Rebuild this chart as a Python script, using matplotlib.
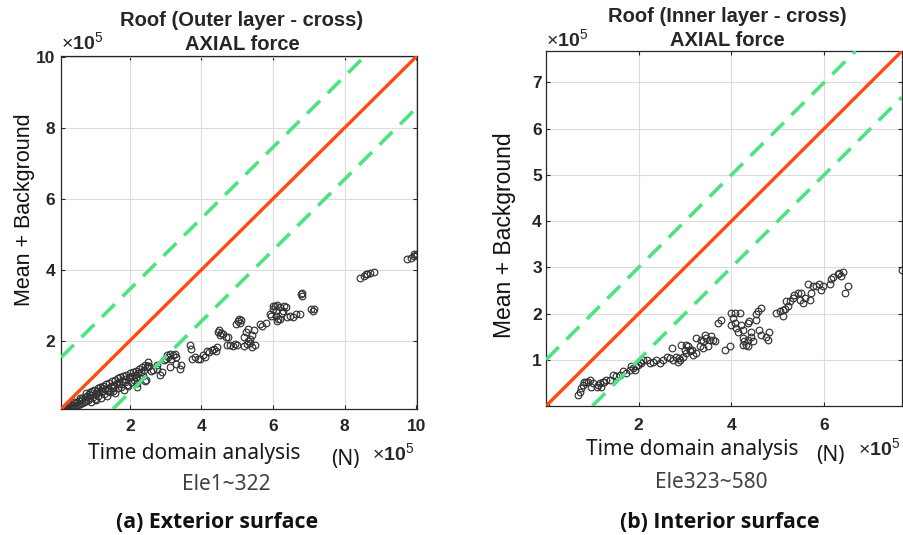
import numpy as np
import matplotlib.pyplot as plt

plt.rcParams['mathtext.fontset'] = 'custom'
plt.rcParams['mathtext.rm'] = 'Liberation Sans'
plt.rcParams['mathtext.bf'] = 'Liberation Sans:bold'

# axial force, units of 1e5 N: (time domain, mean + background)
outer_pts = [
    (0.08, 0.05), (0.12, 0.04), (0.15, 0.08), (0.18, 0.06), (0.20, 0.10), (0.23, 0.07),
    (0.26, 0.12), (0.28, 0.09), (0.31, 0.15), (0.34, 0.10), (0.36, 0.18), (0.39, 0.13),
    (0.42, 0.20), (0.44, 0.15), (0.47, 0.24), (0.50, 0.17), (0.52, 0.27), (0.55, 0.20),
    (0.58, 0.30), (0.60, 0.22), (0.63, 0.33), (0.66, 0.25), (0.68, 0.38), (0.71, 0.28),
    (0.74, 0.41), (0.77, 0.30), (0.80, 0.45), (0.82, 0.34), (0.85, 0.50), (0.87, 0.38),
    (0.90, 0.55), (0.92, 0.29), (0.95, 0.58), (0.97, 0.42), (1.00, 0.62), (1.02, 0.36),
    (1.05, 0.50), (1.07, 0.33), (1.10, 0.66), (1.12, 0.45), (1.15, 0.56), (1.18, 0.70),
    (1.20, 0.40), (1.23, 0.60), (1.26, 0.74), (1.28, 0.50), (1.31, 0.64), (1.34, 0.78),
    (1.36, 0.45), (1.39, 0.68), (1.42, 0.82), (1.44, 0.56), (1.47, 0.72), (1.50, 0.86),
    (1.52, 0.60), (1.55, 0.76), (1.58, 0.90), (1.60, 0.52), (1.63, 0.80), (1.66, 0.94),
    (1.68, 0.66), (1.71, 0.84), (1.74, 0.98), (1.76, 0.70), (1.79, 0.88), (1.82, 1.02),
    (1.84, 0.62), (1.87, 0.92), (1.90, 1.05), (1.92, 0.76), (1.95, 0.72), (1.97, 0.96),
    (2.00, 1.08), (2.03, 0.84), (2.06, 1.00), (2.09, 1.12), (2.12, 0.90), (2.15, 1.04),
    (2.18, 1.16), (2.20, 0.80), (2.23, 1.08), (2.26, 1.20), (2.28, 0.95), (2.31, 1.12),
    (2.34, 1.26), (2.36, 1.00), (2.39, 1.18), (2.42, 1.32), (2.44, 0.89), (2.47, 1.25),
    (2.50, 1.40), (2.52, 1.30), (2.20, 0.70), (2.42, 0.88),
    (0.45, 0.28), (0.62, 0.40), (0.78, 0.52), (0.93, 0.48), (1.08, 0.58), (1.22, 0.68),
    (1.38, 0.60), (1.54, 0.68), (1.70, 0.78), (1.86, 0.84), (2.02, 0.98), (2.17, 0.96),
    (2.55, 1.30), (2.60, 1.15), (2.66, 1.17), (2.75, 1.22), (2.76, 1.31), (2.84, 1.03),
    (2.90, 1.12), (2.95, 1.45), (3.00, 1.50), (3.04, 1.59), (3.08, 1.55), (3.12, 1.62),
    (3.15, 1.50), (3.20, 1.60), (3.25, 1.62), (3.30, 1.55), (3.12, 1.26), (3.30, 1.35),
    (3.44, 1.31), (3.40, 1.20), (3.67, 1.87), (3.70, 1.78),
    (3.75, 1.50), (3.83, 1.54), (3.90, 1.48), (3.97, 1.50), (4.05, 1.60), (4.11, 1.54),
    (4.15, 1.72), (4.21, 1.68), (4.30, 1.75), (4.35, 1.78), (4.44, 1.82), (4.40, 1.72),
    (4.45, 2.25), (4.50, 2.30), (4.55, 2.22), (4.60, 2.20), (4.52, 2.15), (4.68, 2.12),
    (4.72, 1.87), (4.80, 1.88), (4.88, 1.85), (4.95, 1.90), (5.00, 1.87), (4.75, 2.10),
    (4.98, 2.47), (5.02, 2.55), (5.05, 2.62), (5.07, 2.50), (5.10, 2.60),
    (5.18, 2.10), (5.25, 2.25), (5.30, 2.34), (5.40, 2.15), (5.46, 2.30), (5.35, 2.05),
    (5.20, 1.85), (5.28, 1.90), (5.35, 1.95), (5.42, 1.82), (5.50, 1.88), (5.30, 2.00),
    (5.63, 2.48), (5.70, 2.43), (5.81, 2.50), (5.93, 2.71),
    (5.91, 2.76), (6.00, 2.90), (6.05, 2.99), (6.09, 2.71), (6.15, 2.62), (6.19, 2.62),
    (6.28, 2.85), (6.37, 2.94), (6.47, 2.71), (6.56, 2.66), (6.65, 2.76), (6.74, 2.76),
    (6.00, 2.98), (6.10, 3.00), (6.20, 2.95), (6.30, 2.98), (6.07, 2.85), (6.12, 2.55),
    (6.25, 2.78), (6.40, 2.68),
    (6.82, 3.36), (6.82, 3.27), (6.79, 3.32), (7.07, 2.90), (7.12, 2.85), (7.14, 2.90),
    (8.44, 3.78), (8.54, 3.83), (8.63, 3.87), (8.72, 3.92), (8.82, 3.95), (8.60, 3.88),
    (9.75, 4.29), (9.84, 4.34), (9.93, 4.39), (10.00, 4.43), (9.95, 4.45), (10.02, 4.45),
]

inner_pts = [
    (0.00, 0.00),
    (0.69, 0.24), (0.73, 0.31), (0.76, 0.38), (0.80, 0.46), (0.83, 0.51), (0.87, 0.53),
    (0.91, 0.53), (0.94, 0.56), (0.98, 0.42), (1.01, 0.49), (1.09, 0.42), (1.12, 0.46),
    (1.16, 0.49), (1.19, 0.42), (1.23, 0.53), (1.26, 0.52), (1.30, 0.56), (1.37, 0.56),
    (1.45, 0.67), (1.52, 0.64), (1.59, 0.67), (1.66, 0.75), (1.73, 0.71), (1.81, 0.78),
    (1.84, 0.86), (1.88, 0.82), (1.91, 0.78), (1.95, 0.86), (1.99, 0.89), (2.02, 0.96),
    (2.06, 0.93), (2.09, 1.00), (2.17, 1.00), (2.24, 0.93), (2.31, 0.96), (2.38, 1.00),
    (2.45, 0.93), (2.53, 1.00), (2.60, 1.07), (2.67, 1.04), (2.71, 1.25), (2.74, 1.00),
    (2.81, 1.07), (2.85, 0.96), (2.88, 1.04), (2.96, 1.07), (2.99, 1.22), (3.03, 1.14),
    (3.06, 1.29), (3.10, 1.18), (3.14, 1.22), (3.17, 1.11), (3.24, 1.14), (3.32, 1.29),
    (3.39, 1.40), (3.42, 1.54), (3.46, 1.47), (3.53, 1.43), (3.57, 1.51), (3.60, 1.43),
    (3.64, 1.40), (2.89, 1.00), (2.92, 1.33), (3.03, 1.33), (3.10, 1.22), (3.24, 1.47),
    (3.35, 1.43), (3.50, 1.29), (3.39, 1.25),
    (3.71, 1.80), (3.78, 1.87), (3.86, 1.22), (3.97, 1.29),
    (4.00, 2.01), (4.07, 2.01), (4.18, 2.01), (4.04, 1.90), (4.07, 1.80), (4.00, 1.76),
    (4.10, 1.69), (4.14, 1.61), (4.25, 1.65), (4.21, 1.76), (4.35, 1.80), (4.39, 1.83),
    (4.25, 1.47), (4.28, 1.40), (4.32, 1.33), (4.35, 1.43), (4.42, 1.50), (4.25, 1.33),
    (4.35, 1.29), (4.46, 1.40), (4.42, 1.61), (4.60, 1.65), (4.64, 1.54), (4.75, 1.50),
    (4.78, 1.43), (4.82, 1.61), (4.53, 1.87), (4.57, 2.05), (4.64, 2.12), (4.53, 1.98),
    (4.97, 2.01), (5.04, 2.05), (5.11, 2.08), (5.18, 2.27),
    (5.11, 1.94), (5.15, 2.09), (5.22, 2.16), (5.26, 2.27), (5.33, 2.34), (5.36, 2.41),
    (5.44, 2.45), (5.47, 2.30), (5.51, 2.45), (5.54, 2.23), (5.58, 2.34), (5.65, 2.63),
    (5.69, 2.30), (5.72, 2.45), (5.76, 2.59), (5.83, 2.59), (5.90, 2.63), (5.94, 2.52),
    (5.97, 2.59), (6.12, 2.63), (6.15, 2.74), (6.19, 2.78), (6.29, 2.85), (6.33, 2.88),
    (6.37, 2.81), (6.40, 2.90), (6.44, 2.45), (6.51, 2.59),
    (7.68, 2.95),
]

outer_band = 1.45
inner_band = 1.0

RED = '#ff4a0d'
GREEN = '#4ee381'
DARK = '#262626'


def px(x, y):
    # pixel position in the 904x535 canvas -> figure fraction
    return x / 904, 1 - y / 535


def draw_panel(ax, pts, band, xticks, yticks):
    x, y = np.array(pts).T
    lo, hi = x.min(), x.max()
    ax.plot(x, y, 'o', mfc='none', mec='#333333', ms=4.8, mew=0.85, zorder=2)
    ax.plot([lo, hi - band], [lo + band, hi], color=GREEN, lw=2.6,
            dashes=(5, 3), zorder=3)
    ax.plot([lo + band, hi], [lo, hi - band], color=GREEN, lw=2.6,
            dashes=(5, 3), zorder=3)
    ax.plot([lo, hi], [lo, hi], color=RED, lw=2.4, zorder=4)
    ax.set_xlim(lo, hi)
    ax.set_ylim(lo, hi)
    ax.set_xticks(xticks)
    ax.set_yticks(yticks)
    ax.set_xticklabels([str(t) for t in xticks])
    ax.set_yticklabels([str(t) for t in yticks])
    ax.grid(True, color='#dcdcdc', lw=0.8)
    ax.set_axisbelow(True)
    for s in ax.spines.values():
        s.set_color(DARK)
        s.set_linewidth(0.9)
    ax.tick_params(direction='in', length=3, width=0.8, colors=DARK,
                   top=True, right=True)
    for lab in ax.get_xticklabels() + ax.get_yticklabels():
        lab.set_fontfamily('Liberation Sans')
        lab.set_fontweight('bold')
        lab.set_fontsize(12.5)


fig = plt.figure(figsize=(9.04, 5.35), dpi=100)
ax1 = fig.add_axes([61 / 904, 1 - 409 / 535, 356 / 904, 353 / 535])
ax2 = fig.add_axes([546 / 904, 1 - 406 / 535, 356 / 904, 355 / 535])

draw_panel(ax1, outer_pts, outer_band, [2, 4, 6, 8, 10], [2, 4, 6, 8, 10])
draw_panel(ax2, inner_pts, inner_band, [2, 4, 6], [1, 2, 3, 4, 5, 6, 7])
ax1.tick_params(axis='x', pad=7)
ax1.tick_params(axis='y', pad=4)
ax2.tick_params(axis='x', pad=9)
ax2.tick_params(axis='y', pad=3)

title_kw = dict(fontfamily='Liberation Sans', fontweight='bold', fontsize=14.5,
                color=DARK, ha='center', va='center')
fig.text(*px(242, 20), 'Roof (Outer layer - cross)', **title_kw)
fig.text(*px(242, 44), 'AXIAL force', **title_kw)
fig.text(*px(727, 17), 'Roof (Inner layer - cross)', **title_kw)
fig.text(*px(727, 41), 'AXIAL force', **title_kw)

exp_label = r'$\times\mathbf{10}^{5}$'
exp_kw = dict(fontsize=14, color=DARK, va='baseline', ha='left')
fig.text(*px(61, 50), exp_label, **exp_kw)
fig.text(*px(546, 47), exp_label, **exp_kw)
fig.text(*px(372, 461), exp_label, **exp_kw)
fig.text(*px(858, 456), exp_label, **exp_kw)

ylab_kw = dict(fontfamily='Liberation Sans', color='#111111', rotation=90,
               ha='center', va='center')
fig.text(*px(25, 210), 'Mean + Background', fontsize=15.5, **ylab_kw)
fig.text(*px(505, 235), 'Mean + Background', fontsize=16.5, **ylab_kw)

xl_kw = dict(fontfamily='Noto Sans', ha='center', va='center')
fig.text(*px(194, 454), 'Time domain analysis', fontsize=15, color='#1a1a1a', **xl_kw)
fig.text(*px(345, 459), '(N)', fontsize=15, color='#1a1a1a', **xl_kw)
fig.text(*px(226, 485), 'Ele1~322', fontsize=15, color='#404040', **xl_kw)
fig.text(*px(692, 449), 'Time domain analysis', fontsize=15, color='#1a1a1a', **xl_kw)
fig.text(*px(830, 456), '(N)', fontsize=15, color='#1a1a1a', **xl_kw)
fig.text(*px(711, 482), 'Ele323~580', fontsize=15, color='#404040', **xl_kw)

cap_kw = dict(fontfamily='Open Sans', fontweight='bold', fontsize=15.3,
              color='#111111', ha='center', va='center')
fig.text(*px(217, 523), '(a) Exterior surface', **cap_kw)
fig.text(*px(720, 523), '(b) Interior surface', **cap_kw)

fig.savefig('out.png', dpi=100)
